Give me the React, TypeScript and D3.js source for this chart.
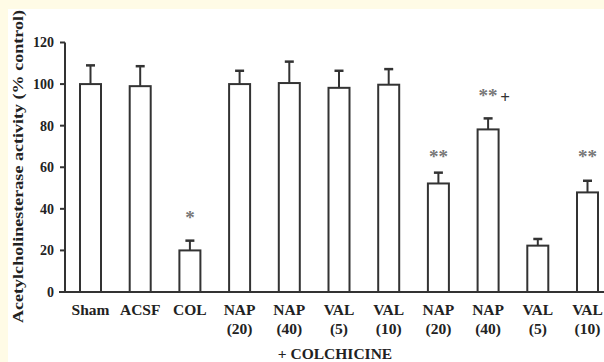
import React from "react";
import * as d3 from "d3";

const groups = ["Sham", "ACSF", "COL", "NAP", "NAP", "VAL", "VAL", "NAP", "NAP", "VAL", "VAL"];
const doses = ["", "", "", "(20)", "(40)", "(5)", "(10)", "(20)", "(40)", "(5)", "(10)"];
const means = [100, 99, 20, 100, 100.5, 98.2, 99.7, 52.2, 78.2, 22.3, 47.9];
const errTop = [109, 108.6, 24.7, 106.4, 110.8, 106.4, 107.2, 57.4, 83.5, 25.5, 53.5];
const stars = ["", "", "*", "", "", "", "", "**", "**", "", "**"];
const starLevel = [0, 0, 37, 0, 0, 0, 0, 66, 95.5, 0, 66];
const plus = ["", "", "", "", "", "", "", "", "+", "", ""];
const yTicks = [0, 20, 40, 60, 80, 100, 120];

const W = 604;
const H = 362;
const font = "'Liberation Serif', 'Times New Roman', serif";

export default function App() {
  const y = d3.scaleLinear().domain([0, 120]).range([292, 42.5]);
  const x = d3
    .scalePoint<number>()
    .domain(d3.range(groups.length))
    .range([90.5, 587.5]);
  const bw = 21;
  const ink = "#333";

  return (
    <svg
      width={W}
      height={H}
      style={{ position: "absolute", left: 0, top: 0 }}
      fontFamily={font}
      fontWeight="bold"
    >
      <rect width={W} height={H} fill="#fffbe6" />
      <rect x={8} y={9} width={W - 8} height={H - 9} fill="#fff" />

      {/* y axis */}
      <line x1={65} x2={65} y1={y(120)} y2={y(0)} stroke={ink} strokeWidth={2} />
      <line x1={59} x2={W} y1={y(0)} y2={y(0)} stroke={ink} strokeWidth={2} />
      {yTicks.map((t) => (
        <g key={t}>
          <line x1={60} x2={65} y1={y(t)} y2={y(t)} stroke={ink} strokeWidth={2} />
          <text x={54} y={y(t)} dy="0.35em" textAnchor="end" fontSize={14} fill="#222">
            {t}
          </text>
        </g>
      ))}
      <text
        transform={`translate(23,166.5) rotate(-90)`}
        textAnchor="middle"
        fontSize={15}
        textLength={313}
        lengthAdjust="spacingAndGlyphs"
        fill="#222"
      >
        Acetylcholinesterase activity (% control)
      </text>

      {/* bars */}
      {means.map((m, i) => {
        const cx = x(i)!;
        return (
          <g key={i}>
            <line x1={cx} x2={cx} y1={y(m)} y2={y(errTop[i])} stroke={ink} strokeWidth={2} />
            <line
              x1={cx - 4.5}
              x2={cx + 4.5}
              y1={y(errTop[i])}
              y2={y(errTop[i])}
              stroke={ink}
              strokeWidth={2.5}
            />
            <rect
              x={cx - bw / 2}
              y={y(m)}
              width={bw}
              height={y(0) - y(m)}
              fill="#fff"
              stroke={ink}
              strokeWidth={2}
            />
            {stars[i] && (
              <text
                x={cx}
                y={y(starLevel[i])}
                dy="0.45em"
                textAnchor="middle"
                fontSize={19}
                fill="#777"
              >
                {stars[i]}
              </text>
            )}
            {plus[i] && (
              <text
                x={cx + 17}
                y={y(starLevel[i]) + 4}
                dy="0.35em"
                textAnchor="middle"
                fontSize={17}
                fill="#333"
              >
                {plus[i]}
              </text>
            )}
            <text x={cx} y={315} textAnchor="middle" fontSize={15.5} fill="#222">
              {groups[i]}
            </text>
            {doses[i] && (
              <text x={cx} y={334} textAnchor="middle" fontSize={15.5} fill="#222">
                {doses[i]}
              </text>
            )}
          </g>
        );
      })}
      <text x={335} y={359} textAnchor="middle" fontSize={15.5} fill="#222">
        + COLCHICINE
      </text>
    </svg>
  );
}
